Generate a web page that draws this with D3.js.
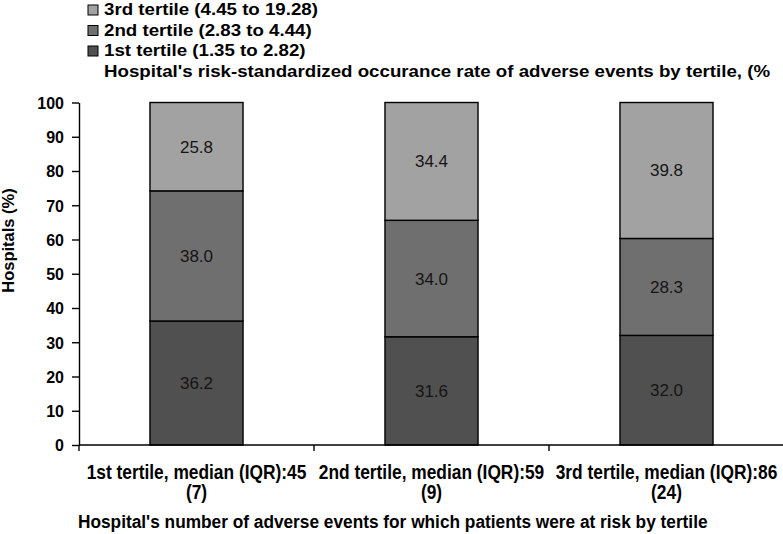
<!DOCTYPE html>
<html><head><meta charset="utf-8">
<script src="https://cdn.jsdelivr.net/npm/d3@7"></script>
<style>body{margin:0;background:#fff}svg{display:block}</style>
</head><body><svg id="c" width="783" height="534"></svg>
<script>
const categories = [["1st tertile, median (IQR):45","(7)"],["2nd tertile, median (IQR):59","(9)"],["3rd tertile, median (IQR):86","(24)"]];
const seriesNames = ["1st tertile (1.35 to 2.82)","2nd tertile (2.83 to 4.44)","3rd tertile (4.45 to 19.28)"];
const tertile1 = [36.2, 31.6, 32.0];
const tertile2 = [38.0, 34.0, 28.3];
const tertile3 = [25.8, 34.4, 39.8];
const yTicks = [0,10,20,30,40,50,60,70,80,90,100];
const colors = ["#505050","#6f6f6f","#a2a2a2"];
const legendTitle = "Hospital's risk-standardized occurance rate of adverse events by tertile, (%";
const xTitle = "Hospital's number of adverse events for which patients were at risk by tertile";
const yTitle = "Hospitals (%)";

const svg = d3.select("#c");
const font = "Arial, 'Liberation Sans', sans-serif";
const mLeft = 79, mRight = 784, mTop = 102.5, mBottom = 445;
const x = d3.scaleBand().domain(d3.range(categories.length)).range([mLeft, mRight]).paddingInner(0.604).paddingOuter(0.302);
const y = d3.scaleLinear().domain([0,100]).range([mBottom, mTop]);

function stext(g, tx, ty, sx, size, str, anchor){
  return g.append("text").attr("transform",`translate(${tx},${ty}) scale(${sx},1)`)
    .attr("font-family",font).attr("font-weight","bold").attr("font-size",size)
    .attr("text-anchor",anchor||"start").attr("fill","#000").text(str);
}

const series = [tertile1, tertile2, tertile3];
const rows = categories.map((c,i)=>({i, v0:tertile1[i], v1:tertile2[i], v2:tertile3[i]}));
const stack = d3.stack().keys(["v0","v1","v2"])(rows);

stack.forEach((s,k)=>{
  svg.append("g").selectAll("rect").data(s).join("rect")
    .attr("x", d=>x(d.data.i)).attr("width", x.bandwidth())
    .attr("y", d=>y(Math.min(d[1],100))).attr("height", d=>y(d[0])-y(Math.min(d[1],100)))
    .attr("fill", colors[k]).attr("stroke","#000").attr("stroke-width",1.4);
  svg.append("g").selectAll("text").data(s).join("text")
    .attr("x", d=>x(d.data.i)+x.bandwidth()/2).attr("y", d=>(y(d[0])+y(Math.min(d[1],100)))/2+6)
    .attr("text-anchor","middle").attr("font-family",font).attr("font-size",17)
    .attr("fill","#151515").text((d,j)=>series[k][j].toFixed(1));
});

// y axis
const ya = svg.append("g").attr("transform",`translate(${mLeft},0)`)
  .call(d3.axisLeft(y).tickValues(yTicks).tickSize(7).tickPadding(8).tickSizeOuter(0));
ya.select(".domain").attr("stroke","#000").attr("stroke-width",1.4);
ya.selectAll("line").attr("stroke","#000").attr("stroke-width",1.4);
ya.selectAll("text").attr("font-family",font).attr("font-weight","bold").attr("font-size",16).attr("fill","#000").attr("dy","0.36em");

// x axis
const nCat = categories.length;
const xb = svg.append("g").attr("transform",`translate(0,${mBottom})`);
xb.append("line").attr("x1",mLeft).attr("x2",mRight).attr("stroke","#000").attr("stroke-width",1.4);
xb.selectAll("line.t").data(d3.range(nCat+1)).join("line").attr("class","t")
  .attr("x1",i=>mLeft+i*(mRight-mLeft)/nCat).attr("x2",i=>mLeft+i*(mRight-mLeft)/nCat)
  .attr("y1",0).attr("y2",6).attr("stroke","#000").attr("stroke-width",1.4);
categories.forEach((c,i)=>{
  const cx = x(i)+x.bandwidth()/2;
  stext(svg, cx, 479, 0.89, 19.5, c[0], "middle");
  stext(svg, cx, 499, 0.89, 19.5, c[1], "middle");
});

stext(svg, 78, 528, 0.96, 18, xTitle);
svg.append("text").attr("transform",`translate(14,240.5) rotate(-90)`).attr("text-anchor","middle")
  .attr("font-family",font).attr("font-weight","bold").attr("font-size",16.5).text(yTitle);

// legend
const legendOrder = [2,1,0];
const lg = svg.append("g");
legendOrder.forEach((k,r)=>{
  const base = 15 + r*20.5;
  lg.append("rect").attr("x",88).attr("y",base-10).attr("width",10).attr("height",10).attr("fill",colors[k]).attr("stroke","#000").attr("stroke-width",1);
  stext(lg, 104, base, 1.1, 17, seriesNames[k]);
});
stext(lg, 104, 76.5, 1.1, 17, legendTitle);
</script></body></html>
